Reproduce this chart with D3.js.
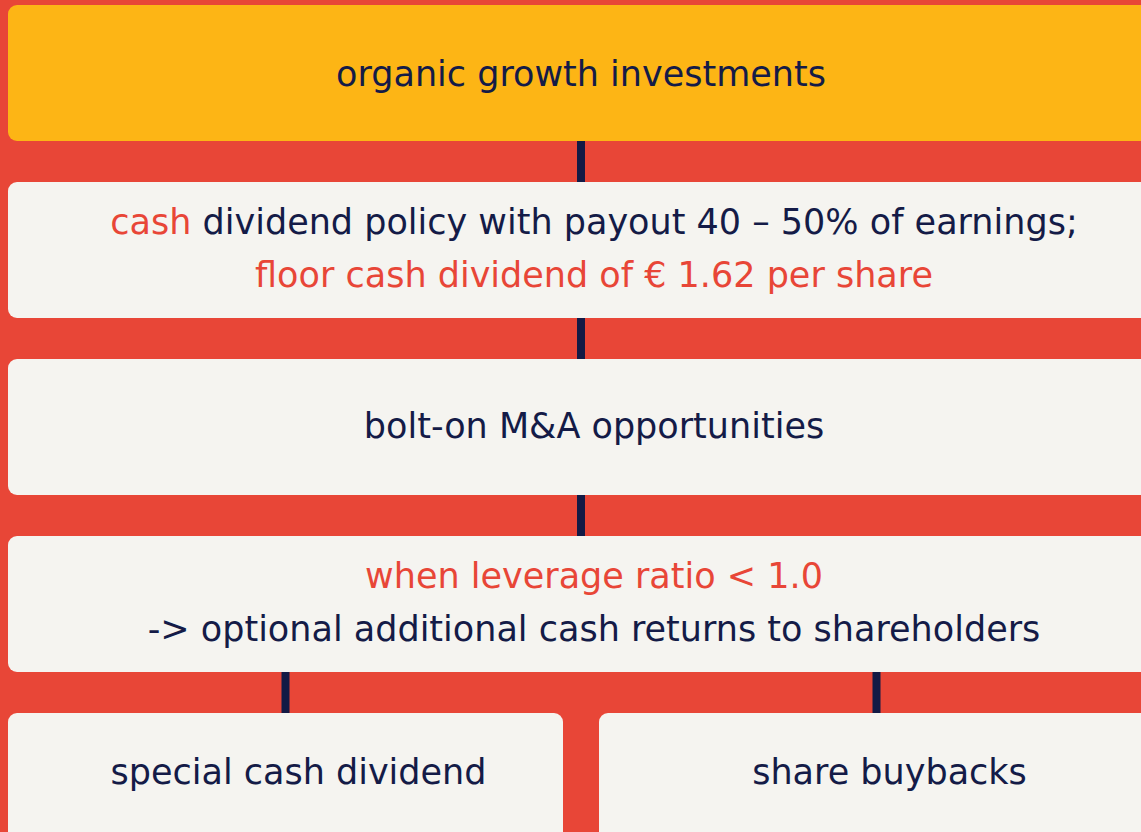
<!DOCTYPE html>
<html>
<head>
<meta charset="utf-8">
<script src="https://cdn.jsdelivr.net/npm/d3@7"></script>
<style>
  html, body { margin: 0; padding: 0; background: #E84637; overflow: hidden; }
  svg { display: block; }
</style>
</head>
<body>
<svg id="chart" width="1141" height="832"></svg>
<script>
// ---- data ----
const rows = ["r0", "r1", "r2", "r3", "r4"];
const nodeIds = ["organic", "dividend", "mna", "leverage", "special", "buyback"];
const nodeRows = ["r0", "r1", "r2", "r3", "r4", "r4"];
const nodeCols = ["full", "full", "full", "full", "left", "right"];
const nodeKinds = ["highlight", "plain", "plain", "plain", "plain", "plain"];
// each node: lines, each line a list of [text, tone]
const nodeLines = [
  [[["organic growth investments", "dark"]]],
  [[["cash", "accent"], [" dividend policy with payout 40 \u2013 50% of earnings;", "dark"]],
   [["floor cash dividend of \u20ac 1.62 per share", "accent"]]],
  [[["bolt-on M&A opportunities", "dark"]]],
  [[["when leverage ratio < 1.0", "accent"]],
   [["-> optional additional cash returns to shareholders", "dark"]]],
  [[["special cash dividend", "dark"]]],
  [[["share buybacks", "dark"]]]
];
const links = [["organic", "dividend"], ["dividend", "mna"], ["mna", "leverage"], ["leverage", "special"], ["leverage", "buyback"]];

// ---- style ----
const W = 1141, H = 832;
const colors = { bg: "#E84637", highlight: "#FDB515", plain: "#F5F4F0", dark: "#141B47", accent: "#E84637", link: "#131A45" };
const fontFamily = "'DejaVu Sans', sans-serif";
const fontSize = 35;
const textShift = { highlight: 0, plain: 13 };

const svg = d3.select("#chart");
svg.append("rect").attr("width", W).attr("height", H).attr("fill", colors.bg);

const y = d3.scaleBand().domain(rows).range([5, 849]).paddingInner(41 / 177).paddingOuter(0);
const xHalf = d3.scaleBand().domain(["left", "right"]).range([8, 1154]).paddingInner(36 / 591).paddingOuter(0);
function xOf(col) {
  if (col === "full") return { x: 8, w: 1146 };
  return { x: xHalf(col), w: xHalf.bandwidth() };
}

const nodes = nodeIds.map((id, i) => {
  const c = xOf(nodeCols[i]);
  return { id, x: c.x, w: c.w, y: y(nodeRows[i]), h: y.bandwidth(), kind: nodeKinds[i], lines: nodeLines[i] };
});
const byId = new Map(nodes.map(n => [n.id, n]));

// links (drawn first, under boxes)
svg.append("g").selectAll("rect").data(links).join("rect")
  .attr("x", d => byId.get(d[1]).x + byId.get(d[1]).w / 2 - 4)
  .attr("y", d => byId.get(d[0]).y + byId.get(d[0]).h)
  .attr("width", 8)
  .attr("height", d => byId.get(d[1]).y - (byId.get(d[0]).y + byId.get(d[0]).h))
  .attr("fill", colors.link);

const g = svg.append("g").selectAll("g").data(nodes).join("g");
g.append("rect")
  .attr("x", d => d.x).attr("y", d => d.y)
  .attr("width", d => d.w).attr("height", d => d.h)
  .attr("rx", 9).attr("ry", 9)
  .attr("fill", d => colors[d.kind]);

const lineGap = 53;
g.each(function(d) {
  const n = d.lines.length;
  const cx = d.x + d.w / 2 + textShift[d.kind];
  const cy = (d.y + Math.min(d.y + d.h, H)) / 2;
  const base = n === 1 ? cy + (d.kind === "plain" ? 11 : 13) : cy - 16.5;
  const t = d3.select(this).append("text")
    .attr("text-anchor", "middle")
    .attr("font-family", fontFamily)
    .attr("font-size", fontSize);
  d.lines.forEach((line, li) => {
    line.forEach((seg, si) => {
      const ts = t.append("tspan").text(seg[0]).attr("fill", colors[seg[1]]).style("white-space", "pre");
      if (si === 0) ts.attr("x", cx).attr("y", base + li * lineGap);
    });
  });
  t.attr("xml:space", "preserve");
});
</script>
</body>
</html>
